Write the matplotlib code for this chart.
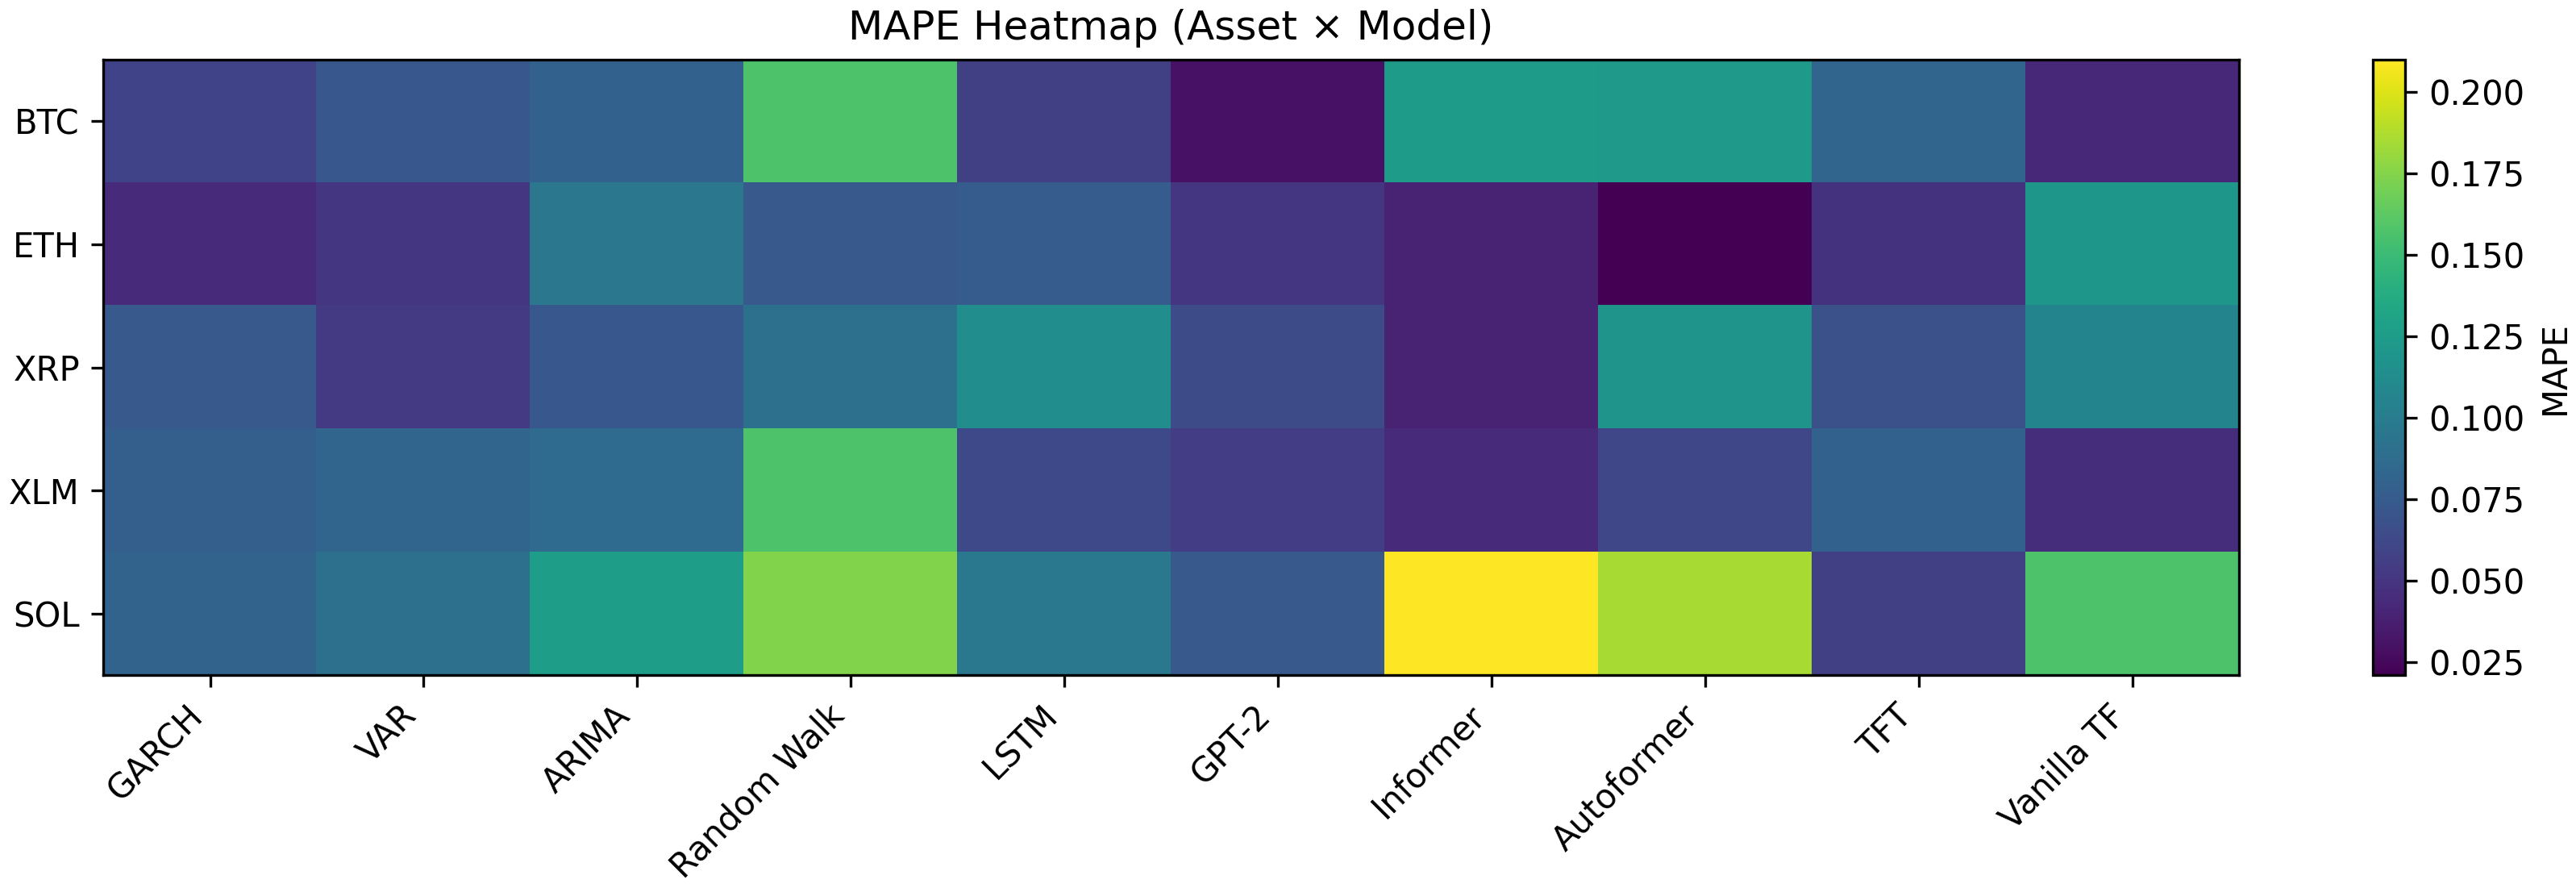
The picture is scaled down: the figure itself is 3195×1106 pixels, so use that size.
import numpy as np
import matplotlib
matplotlib.use("Agg")
import matplotlib.pyplot as plt

assets = ["BTC", "ETH", "XRP", "XLM", "SOL"]
models = ["GARCH", "VAR", "ARIMA", "Random Walk", "LSTM",
          "GPT-2", "Informer", "Autoformer", "TFT", "Vanilla TF"]

# MAPE per asset (rows) and model (columns)
btc = [0.059, 0.072, 0.080, 0.157, 0.057, 0.030, 0.125, 0.123, 0.083, 0.042]
eth = [0.044, 0.051, 0.096, 0.074, 0.076, 0.051, 0.040, 0.021, 0.049, 0.121]
xrp = [0.074, 0.053, 0.072, 0.091, 0.114, 0.064, 0.040, 0.119, 0.068, 0.106]
xlm = [0.078, 0.083, 0.087, 0.157, 0.063, 0.055, 0.044, 0.061, 0.080, 0.046]
sol = [0.081, 0.091, 0.127, 0.174, 0.097, 0.074, 0.210, 0.185, 0.057, 0.157]

mape = np.array([btc, eth, xrp, xlm, sol])

fig = plt.figure(figsize=(10.65, 3.6867), dpi=300)
ax = fig.add_axes([0.0401, 0.2432, 0.8291, 0.6899])
cax = fig.add_axes([0.9211, 0.2432, 0.0125, 0.6899])

im = ax.imshow(mape, cmap="viridis", aspect="auto")
ax.set_xticks(np.arange(len(models)))
ax.set_xticklabels(models, rotation=45, ha="right")
ax.set_yticks(np.arange(len(assets)))
ax.set_yticklabels(assets)
ax.set_title("MAPE Heatmap (Asset \u00d7 Model)", fontsize=12)

cb = fig.colorbar(im, cax=cax)
cb.set_label("MAPE")

plt.savefig("out.png", dpi=300)
